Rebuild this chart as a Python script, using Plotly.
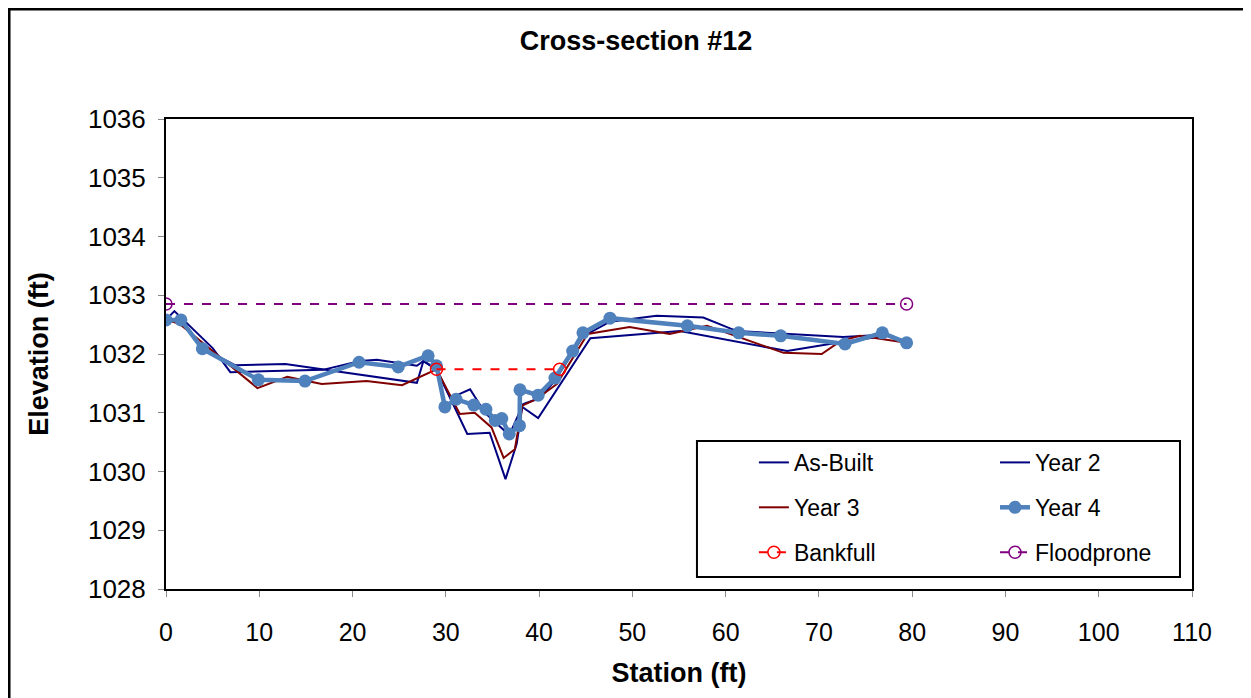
import plotly.graph_objects as go

# ---- data ----
asbuilt_x = [0, 0.9, 5.0, 6.9, 16.8, 20.8, 22.6, 26.9, 27.6, 29.0, 32.3, 34.7, 36.4, 37.6, 38.2, 39.9, 45.5, 55.1, 66.6, 72.3, 77.3, 79.4]
asbuilt_y = [1032.58, 1032.73, 1032.10, 1031.69, 1031.73, 1031.88, 1031.90, 1031.80, 1031.88, 1031.74, 1030.64, 1030.66, 1029.87, 1030.47, 1031.10, 1030.91, 1032.27, 1032.39, 1032.05, 1032.20, 1032.31, 1032.19]

year2_x = [0, 1.6, 4.0, 7.4, 12.8, 26.9, 27.6, 29.0, 30.5, 32.6, 34.2, 36.8, 38.3, 40.1, 41.7, 44.7, 47.6, 52.6, 57.6, 61.2, 72.6, 77.3, 79.4]
year2_y = [1032.58, 1032.58, 1032.09, 1031.81, 1031.83, 1031.51, 1031.88, 1031.74, 1031.25, 1031.40, 1031.00, 1030.62, 1031.15, 1031.25, 1031.55, 1032.30, 1032.55, 1032.65, 1032.62, 1032.39, 1032.29, 1032.33, 1032.19]

year3_x = [0, 1.4, 9.8, 13.0, 16.7, 21.5, 25.3, 29.0, 31.5, 33.1, 34.9, 36.2, 37.4, 38.2, 39.7, 41.9, 45.2, 49.7, 54.0, 58.0, 66.2, 70.3, 72.3, 74.4, 79.4]
year3_y = [1032.58, 1032.52, 1031.42, 1031.61, 1031.49, 1031.54, 1031.47, 1031.74, 1030.98, 1031.00, 1030.75, 1030.23, 1030.38, 1031.12, 1031.23, 1031.49, 1032.34, 1032.46, 1032.34, 1032.48, 1032.02, 1032.00, 1032.22, 1032.31, 1032.19]

year4_x = [0, 1.6, 3.9, 9.9, 14.9, 20.7, 24.9, 28.1, 29.0, 29.9, 31.1, 33.0, 34.3, 35.3, 36.0, 36.8, 37.9, 37.95, 39.9, 41.7, 43.6, 44.7, 47.6, 55.9, 61.4, 65.9, 72.8, 76.8, 79.4]
year4_y = [1032.58, 1032.58, 1032.09, 1031.56, 1031.54, 1031.86, 1031.78, 1031.97, 1031.80, 1031.10, 1031.23, 1031.13, 1031.06, 1030.87, 1030.90, 1030.64, 1030.78, 1031.39, 1031.30, 1031.59, 1032.05, 1032.36, 1032.61, 1032.48, 1032.36, 1032.31, 1032.17, 1032.36, 1032.19]

bankfull_x = [29.0, 42.2]
bankfull_y = [1031.74, 1031.74]

floodprone_x = [0, 79.4]
floodprone_y = [1032.85, 1032.85]

x_ticks = [0, 10, 20, 30, 40, 50, 60, 70, 80, 90, 100, 110]
y_ticks = [1028, 1029, 1030, 1031, 1032, 1033, 1034, 1035, 1036]

FONT = "Liberation Sans, Arial, sans-serif"

fig = go.Figure()

fig.add_trace(go.Scatter(x=asbuilt_x, y=asbuilt_y, name="As-Built", mode="lines",
                         line=dict(color="#000080", width=2), legend="legend"))
fig.add_trace(go.Scatter(x=year2_x, y=year2_y, name="Year 2", mode="lines",
                         line=dict(color="#000080", width=2), legend="legend2"))
fig.add_trace(go.Scatter(x=year3_x, y=year3_y, name="Year 3", mode="lines",
                         line=dict(color="#800000", width=2), legend="legend"))
fig.add_trace(go.Scatter(x=year4_x, y=year4_y, name="Year 4", mode="lines+markers",
                         line=dict(color="#4F81BD", width=4.5),
                         marker=dict(color="#4F81BD", size=13), legend="legend2"))
fig.add_trace(go.Scatter(x=bankfull_x, y=bankfull_y, name="Bankfull", mode="lines+markers",
                         line=dict(color="#FF0000", width=2, dash="dash"),
                         marker=dict(symbol="circle-open", color="#FF0000", size=12, line=dict(width=1.5)),
                         legend="legend"))
fig.add_trace(go.Scatter(x=floodprone_x, y=floodprone_y, name="Floodprone", mode="lines+markers",
                         line=dict(color="#800080", width=2, dash="dash"),
                         marker=dict(symbol="circle-open", color="#800080", size=12, line=dict(width=1.5)),
                         legend="legend2"))

legend_common = dict(
    orientation="v", yanchor="top", xanchor="left", y=0.315,
    bgcolor="rgba(0,0,0,0)", borderwidth=0,
    font=dict(family=FONT, size=23, color="black"),
    tracegroupgap=12, traceorder="grouped",
)

# give each trace its own group so tracegroupgap sets row spacing
for i, tr in enumerate(fig.data):
    tr.legendgroup = f"g{i}"

fig.update_layout(
    width=1251, height=698,
    margin=dict(l=158, r=67, t=111, b=117),
    paper_bgcolor="white", plot_bgcolor="white",
    font=dict(family=FONT, color="black"),
    title=dict(text="<b>Cross-section #12</b>", x=0.502, xref="container", xanchor="center",
               y=0.953, yref="container", yanchor="middle",
               font=dict(family=FONT, size=27, color="black")),
    showlegend=True,
    legend=dict(x=0.573, **legend_common),
    legend2=dict(x=0.808, **legend_common),
    xaxis=dict(range=[0, 110], tickvals=x_ticks, showgrid=False, zeroline=False,
               showline=True, linecolor="black", linewidth=2, mirror=True,
               ticks="outside", ticklen=6, tickcolor="#888888", tickwidth=1,
               ticklabelstandoff=14,
               tickfont=dict(family=FONT, size=25, color="black"),
               title=dict(text="<b>Station (ft)</b>", standoff=18,
                          font=dict(family=FONT, size=27, color="black"))),
    yaxis=dict(range=[1028, 1036], tickvals=y_ticks, showgrid=False, zeroline=False,
               showline=True, linecolor="black", linewidth=2, mirror=True,
               ticks="outside", ticklen=6, tickcolor="#888888", tickwidth=1,
               ticklabelstandoff=7,
               tickfont=dict(family=FONT, size=26, color="black"),
               title=dict(text="<b>Elevation (ft)</b>", standoff=32,
                          font=dict(family=FONT, size=27, color="black"))),
    shapes=[
        # legend frame
        dict(type="rect", xref="paper", yref="paper",
             x0=0.5175, x1=0.9883, y0=0.0255, y1=0.315,
             line=dict(color="black", width=2), fillcolor="rgba(0,0,0,0)", layer="above"),
        # outer chart frame
        dict(type="rect", xref="paper", yref="paper",
             x0=-0.153, x1=1.063, y0=-0.30, y1=1.234,
             line=dict(color="black", width=3), fillcolor="rgba(0,0,0,0)", layer="above"),
    ],
)

fig.write_html("out.html")
